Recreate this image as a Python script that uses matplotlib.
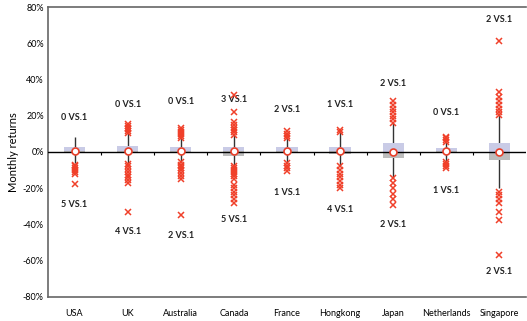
import matplotlib
matplotlib.use("Agg")
import matplotlib.pyplot as plt
import numpy as np

plt.rcParams['font.family'] = ['Lato', 'DejaVu Sans']

categories = ["USA", "UK", "Australia", "Canada", "France", "Hongkong", "Japan", "Netherlands", "Singapore"]
q1 = [-0.5, -0.7, -0.7, -2.0, -0.5, -1.0, -3.5, -0.5, -4.4]
median = [0.5, 0.8, 0.5, 0.3, 0.5, 0.5, 0.2, 0.3, 0.2]
q3 = [3.0, 3.5, 3.0, 3.0, 3.0, 2.5, 5.0, 2.0, 5.0]
whisker_lo = [-6.0, -6.0, -5.0, -8.0, -6.0, -8.0, -14.5, -5.5, -20.0]
whisker_hi = [8.4, 11.0, 8.0, 10.0, 8.0, 12.0, 16.0, 5.5, 21.0]
outliers = [
    [-7, -8, -9, -10, -11, -12, -17.5],
    [10.5, 11.5, 12.5, 13.5, 14.5, 15.5, -6.5, -8, -9.5, -11, -12.5, -14, -15.5, -17, -33],
    [7.5, 9, 10, 11, 12, 13.5, -5.5, -7, -8, -9, -10, -11.5, -13, -15, -35],
    [31.5, 22, 9.5, 11, 12, 13.5, 15, 16.5, -8, -9, -10, -11, -12, -13, -15, -18, -20, -22, -24, -26, -28],
    [8, 9, 10, 11.5, -6, -7.5, -9, -10.5],
    [12, 11, -8, -10, -12, -14, -16, -18, -20],
    [16, 18, 20, 22, 24, 26, 28, -14.5, -17, -20, -23, -26, -29],
    [5.5, 6.5, 7.5, 8.3, -5.5, -6.5, -7.5, -9],
    [61, 20.5, 22, 24, 26, 28, 30.5, 33, -22, -24, -26, -28, -33, -37.5, -57],
]
label_up = ["0 VS.1", "0 VS.1", "0 VS.1", "3 VS.1", "2 VS.1", "1 VS.1", "2 VS.1", "0 VS.1", "2 VS.1"]
label_down = ["5 VS.1", "4 VS.1", "2 VS.1", "5 VS.1", "1 VS.1", "4 VS.1", "2 VS.1", "1 VS.1", "2 VS.1"]
# annotation placement (layout)
label_up_y = [19, 26, 27.7, 28.7, 23.7, 26, 38, 22, 73]
label_down_y = [-29, -44, -46, -37.5, -22.6, -32, -40, -21, -66]
yticks = [-80, -60, -40, -20, 0, 20, 40, 60, 80]

fig = plt.figure(figsize=(5.27, 3.21), dpi=100)
ax = fig.add_axes([0.091, 0.075, 0.907, 0.903])

x = np.arange(len(categories))
bw = 0.4
for i in x:
    ax.vlines(i, whisker_lo[i], whisker_hi[i], color="#333333", lw=1.0, zorder=2)
    ax.bar(i, q3[i] - median[i], bottom=median[i], width=bw, color="#c9cbe6", zorder=3)
    ax.bar(i, median[i] - q1[i], bottom=q1[i], width=bw, color="#bdbdbd", zorder=3)
    ax.plot([i] * len(outliers[i]), outliers[i], ls="none", marker="x", ms=4.5,
            mew=1.1, color="#f0402a", zorder=4)
    ax.text(i, label_up_y[i], label_up[i], ha="center", va="center", fontsize=6.5,
            fontweight="bold", color="#222222")
    ax.text(i, label_down_y[i], label_down[i], ha="center", va="center", fontsize=6.5,
            fontweight="bold", color="#222222")

ax.axhline(0, color="black", lw=1.0, zorder=3.5)
ax.plot(x, median, ls="none", marker="o", ms=5, mfc="white", mec="#e8402a", mew=1.2, zorder=6)
# small ticks on the zero line between categories
ax.vlines(x[:-1] + 0.5, -1.6, 0, color="black", lw=0.8, zorder=3.5)

ax.set_xlim(-0.5, len(categories) - 0.5)
ax.set_ylim(-80, 80)
ax.set_yticks(yticks)
ax.set_yticklabels([f"{v}%" for v in yticks], fontsize=6.5)
ax.set_xticks(x)
ax.set_xticklabels(categories, fontsize=6.5)
ax.tick_params(axis="x", length=0, pad=9)
ax.tick_params(axis="y", length=0, pad=3)
ax.set_ylabel("Monthly returns", fontsize=8, labelpad=3)

for s in ["left", "top", "bottom"]:
    ax.spines[s].set_color("#666666")
    ax.spines[s].set_linewidth(1.2)
ax.spines["right"].set_visible(False)

fig.savefig("out.png", dpi=100)
